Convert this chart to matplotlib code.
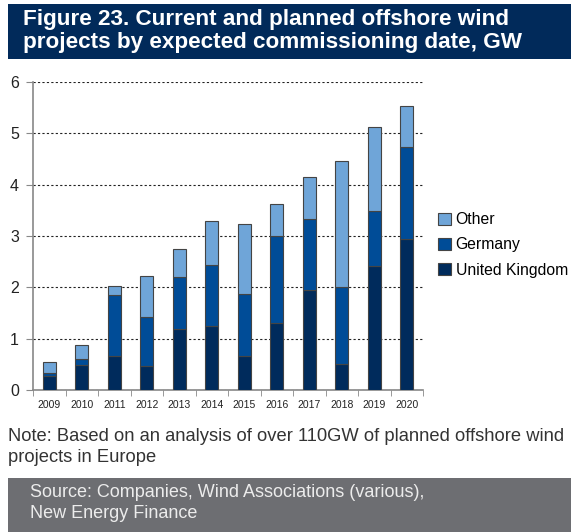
import matplotlib.pyplot as plt
import matplotlib.patches as patches
import numpy as np

years = ['2009', '2010', '2011', '2012', '2013', '2014',
         '2015', '2016', '2017', '2018', '2019', '2020']
uk = [0.27, 0.48, 0.66, 0.47, 1.18, 1.24, 0.66, 1.30, 1.95, 0.50, 2.42, 2.95]
germany = [0.06, 0.13, 1.19, 0.95, 1.02, 1.20, 1.21, 1.70, 1.39, 1.50, 1.06, 1.79]
other = [0.22, 0.26, 0.17, 0.81, 0.54, 0.86, 1.37, 0.63, 0.80, 2.46, 1.64, 0.80]

c_uk = '#002b5c'
c_de = '#004c97'
c_ot = '#6fa5d8'
edge = '#444444'

fig = plt.figure(figsize=(5.71, 5.32), dpi=100)
plt.rcParams['font.family'] = ['Liberation Sans', 'DejaVu Sans']

# title band
fig.patches.append(patches.Rectangle((8 / 571, 1 - 59 / 532), 1, 55 / 532,
                                     transform=fig.transFigure, facecolor='#012a5a',
                                     edgecolor='none', zorder=0))
fig.text(23 / 571, 1 - 31 / 532,
         'Figure 23. Current and planned offshore wind\nprojects by expected commissioning date, GW',
         color='white', fontsize=16.2, fontweight='bold', va='center', ha='left',
         linespacing=1.1)

# source band
fig.patches.append(patches.Rectangle((8 / 571, 0), 1, 54 / 532,
                                     transform=fig.transFigure, facecolor='#6d6e72',
                                     edgecolor='none', zorder=0))
fig.text(30 / 571, 1 - 503 / 532,
         'Source: Companies, Wind Associations (various),\nNew Energy Finance',
         color='#ececec', fontsize=13, va='center', ha='left', linespacing=1.3)

# note
fig.text(8 / 571, 1 - 447 / 532,
         'Note: Based on an analysis of over 110GW of planned offshore wind\nprojects in Europe',
         color='#333333', fontsize=13.2, va='center', ha='left', linespacing=1.3)

ax = fig.add_axes([33 / 571, 1 - 390 / 532, 390 / 571, 308 / 532])
x = np.arange(len(years))
w = 0.4
b1 = ax.bar(x, uk, w, color=c_uk, edgecolor=edge, linewidth=0.8, label='United Kingdom', zorder=3)
b2 = ax.bar(x, germany, w, bottom=uk, color=c_de, edgecolor=edge, linewidth=0.8,
            label='Germany', zorder=3)
b3 = ax.bar(x, other, w, bottom=np.array(uk) + np.array(germany), color=c_ot,
            edgecolor=edge, linewidth=0.8, label='Other', zorder=3)

ax.set_xlim(-0.5, len(years) - 0.5)
ax.set_ylim(0, 6)
ax.set_yticks(range(7))
ax.yaxis.grid(True, linestyle=(0, (2, 2)), color='#222222', linewidth=0.8, zorder=0)
ax.set_axisbelow(True)

ax.set_xticks(x)
ax.set_xticklabels(years, fontsize=7.5, color='#222222')
ax.set_xticks(np.arange(-0.5, len(years)), minor=True)
ax.tick_params(axis='x', which='major', length=0, pad=7)
ax.tick_params(axis='x', which='minor', length=4, direction='out', color='#888888')
ax.tick_params(axis='y', length=5, direction='out', color='#888888', labelsize=11.5,
               labelcolor='#222222', pad=5)

for s in ['top', 'right']:
    ax.spines[s].set_visible(False)
for s in ['left', 'bottom']:
    ax.spines[s].set_color('#888888')
    ax.spines[s].set_linewidth(1.2)

fig.legend(handles=[b3, b2, b1], labels=['Other', 'Germany', 'United Kingdom'],
           loc='center left', bbox_to_anchor=(432 / 571, 1 - 245 / 532),
           frameon=False, fontsize=11.3, handlelength=0.8, handleheight=0.8,
           handletextpad=0.3, labelspacing=0.65, borderaxespad=0)

fig.savefig('out.png', dpi=100)
